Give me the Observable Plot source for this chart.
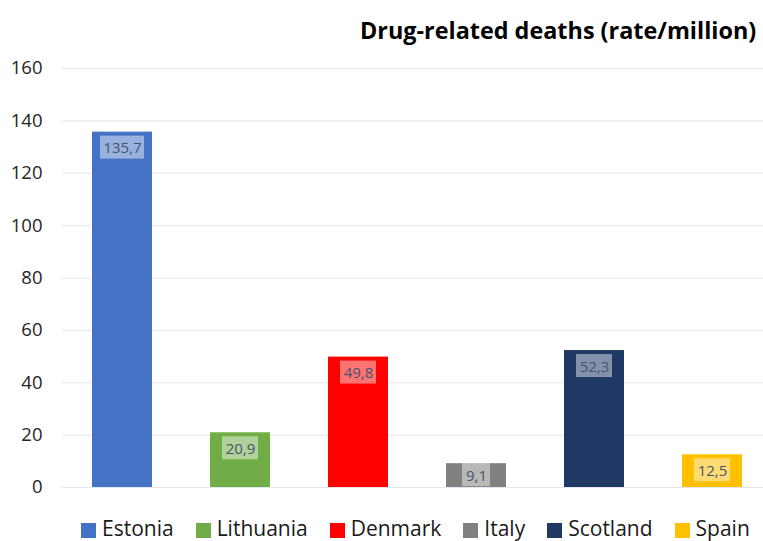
<!DOCTYPE html>
<html>
<head>
<meta charset="utf-8">
<script src="https://cdn.jsdelivr.net/npm/d3@7"></script>
<script src="https://cdn.jsdelivr.net/npm/@observablehq/plot@0.6"></script>
<style>
  html, body { margin: 0; padding: 0; background: #fff; overflow: hidden; }
  #wrap { position: relative; width: 763px; height: 541px; overflow: hidden; font-family: "Open Sans", sans-serif; }
  #title { position: absolute; left: 360px; top: 14px; font-size: 23.4px; font-weight: 700; color: #000; white-space: nowrap; }
  #legend { position: absolute; left: 81px; top: 514px; display: flex; font-size: 21px; color: #1a1a1a; white-space: nowrap; }
  .item { display: flex; align-items: center; margin-right: 22px; }
  .sw { width: 15px; height: 15px; margin-right: 6px; margin-top: 5px; }
  #chart { position: absolute; left: 0; top: 0; width: 772px; }
</style>
</head>
<body>
<div id="wrap">
  <div id="chart"></div>
  <div id="title">Drug-related deaths (rate/million)</div>
  <div id="legend"></div>
</div>
<script>
const countries = ["Estonia", "Lithuania", "Denmark", "Italy", "Scotland", "Spain"];
const rates = [135.7, 20.9, 49.8, 9.1, 52.3, 12.5];
const colors = ["#4472c4", "#70ad47", "#ff0000", "#808080", "#203864", "#ffc000"];
const yTicks = [0, 20, 40, 60, 80, 100, 120, 140, 160];

const data = countries.map((c, i) => ({
  country: c,
  value: rates[i],
  color: colors[i],
  label: rates[i].toFixed(1).replace(".", ",")
}));

const pxPerUnit = (487 - 68) / 160;
const boxH = 23 / pxPerUnit;
const withBox = data.map(d => {
  let top = d.value - 4 / pxPerUnit;
  if (top - boxH < 1.5 / pxPerUnit) top = d.value;
  return {...d, b1: top, b2: top - boxH, mid: top - boxH / 2};
});
const byLen = n => withBox.filter(d => d.label.length === n);

const chart = Plot.plot({
  width: 772,
  height: 541,
  marginLeft: 62,
  marginRight: 0,
  marginTop: 68,
  marginBottom: 54,
  style: { fontFamily: "Open Sans, sans-serif", background: "transparent", overflow: "visible", maxWidth: "none" },
  x: { domain: countries, paddingInner: 0.49, paddingOuter: 0.245, axis: null },
  y: { domain: [0, 160], ticks: yTicks, label: null },
  marks: [
    Plot.ruleY(yTicks, { stroke: "#e4e7ee", strokeWidth: 1 }),
    Plot.axisY({ ticks: yTicks, tickSize: 0, tickPadding: 20, fontSize: 18.5, fill: "#262626", label: null }),
    Plot.barY(data, { x: "country", y: "value", fill: "color" }),
    Plot.barY(byLen(5), { x: "country", y1: "b1", y2: "b2", fill: "white", fillOpacity: 0.45, insetLeft: 8, insetRight: 8 }),
    Plot.barY(byLen(4), { x: "country", y1: "b1", y2: "b2", fill: "white", fillOpacity: 0.45, insetLeft: 12, insetRight: 12 }),
    Plot.barY(byLen(3), { x: "country", y1: "b1", y2: "b2", fill: "white", fillOpacity: 0.45, insetLeft: 16, insetRight: 16 }),
    Plot.text(withBox, { x: "country", y: "mid", text: "label", fill: "#44546a", fontSize: 15, dy: 1 })
  ]
});
document.getElementById("chart").appendChild(chart);

const legend = document.getElementById("legend");
countries.forEach((c, i) => {
  const it = document.createElement("div");
  it.className = "item";
  const sw = document.createElement("div");
  sw.className = "sw";
  sw.style.background = colors[i];
  const t = document.createElement("span");
  t.textContent = c;
  it.appendChild(sw); it.appendChild(t);
  legend.appendChild(it);
});
</script>
</body>
</html>
